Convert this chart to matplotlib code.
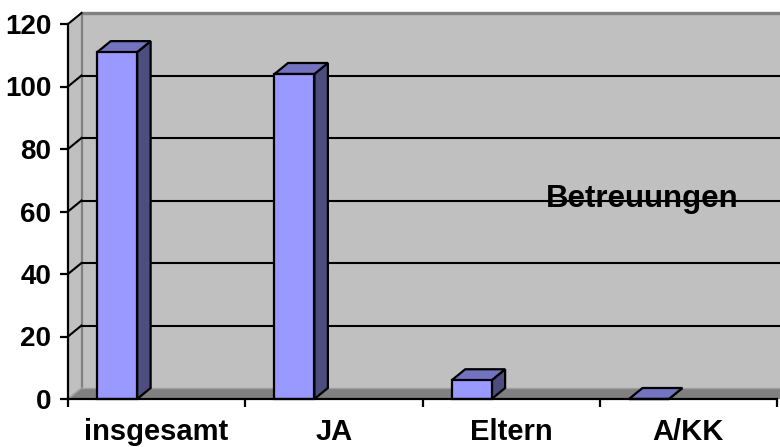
import matplotlib
matplotlib.use("Agg")
import matplotlib.pyplot as plt
from matplotlib.patches import Polygon

categories = ["insgesamt", "JA", "Eltern", "A/KK"]
values = [111, 104, 6, 0]
yticks = [0, 20, 40, 60, 80, 100, 120]
series_name = "Betreuungen"

plt.rcParams['font.family'] = ['Liberation Sans', 'DejaVu Sans']
plt.rcParams['font.weight'] = 'bold'

W, H = 780, 447
fig = plt.figure(figsize=(W / 100, H / 100), dpi=100)
fig.patch.set_facecolor('white')

x_left, x_right = 68, 777
y_bot, y_top = 399, 24
ax = fig.add_axes([x_left / W, (H - y_bot) / H, (x_right - x_left) / W, (y_bot - y_top) / H])
n = len(categories)
ymax = yticks[-1]
ax.set_xlim(0, n)
ax.set_ylim(0, ymax)
ax.patch.set_visible(False)

# depth offsets in data units
px_per_x = (x_right - x_left) / n
px_per_y = (y_bot - y_top) / ymax
ddx = 13.5 / px_per_x
ddy = 11.0 / px_per_y

wall_c = '#C0C0C0'
floor_c = '#808080'
edge_gray = '#808080'

# back wall
ax.add_patch(Polygon([(ddx, ddy), (n + ddx, ddy), (n + ddx, ymax + ddy), (ddx, ymax + ddy)],
                     closed=True, facecolor=wall_c, edgecolor='none', clip_on=False, zorder=0.5))
# left wall
ax.add_patch(Polygon([(0, 0), (ddx, ddy), (ddx, ymax + ddy), (0, ymax)],
                     closed=True, facecolor=wall_c, edgecolor='none', clip_on=False, zorder=0.5))
# back wall edges
ax.plot([ddx, ddx], [ddy, ymax + ddy], color=edge_gray, lw=1.6, clip_on=False, zorder=0.55)
ax.plot([ddx, n + ddx], [ymax + ddy, ymax + ddy], color=edge_gray, lw=2.4, clip_on=False, zorder=0.55)

# gridlines
for v in yticks[1:]:
    ax.plot([0, ddx], [v, v + ddy], color='black', lw=1.5, clip_on=False, zorder=0.6)
    if v < ymax:
        ax.plot([ddx, n + ddx], [v + ddy, v + ddy], color='black', lw=1.5, clip_on=False, zorder=0.6)

# floor
ax.add_patch(Polygon([(0, 0), (n + ddx * 3, 0), (n + ddx * 3, ddy), (ddx, ddy)],
                     closed=True, facecolor=floor_c, edgecolor='none', clip_on=False, zorder=0.7))
ax.plot([0, ddx], [0, ddy], color='#A0A0A0', lw=1.2, clip_on=False, zorder=0.72)
ax.plot([ddx, n + ddx * 3], [ddy, ddy], color='#A0A0A0', lw=1.0, clip_on=False, zorder=0.72)

# bars
front_c = '#9999FF'
top_c = '#7373C0'
side_c = '#4D4D80'
off = 0.165
bw = 0.225
for i, v in enumerate(values):
    x0 = i + off
    x1 = x0 + bw
    kw = dict(closed=True, edgecolor='black', lw=1.6, joinstyle='miter', clip_on=False, zorder=2 + i * 0.01)
    ax.add_patch(Polygon([(x1, 0), (x1 + ddx, ddy), (x1 + ddx, v + ddy), (x1, v)], facecolor=side_c, **kw))
    ax.add_patch(Polygon([(x0, v), (x1, v), (x1 + ddx, v + ddy), (x0 + ddx, v + ddy)], facecolor=top_c, **kw))
    ax.add_patch(Polygon([(x0, 0), (x1, 0), (x1, v), (x0, v)], facecolor=front_c, **kw))

# axes
for s in ['top', 'right']:
    ax.spines[s].set_visible(False)
for s in ['left', 'bottom']:
    ax.spines[s].set_linewidth(1.6)
    ax.spines[s].set_zorder(3)
ax.set_yticks(yticks)
ax.set_yticklabels([str(t) for t in yticks], fontsize=20, fontweight='bold')
ax.set_xticks(range(n + 1))
ax.set_xticklabels([''] * (n + 1))
ax.set_xticks([i + 0.5 for i in range(n)], minor=True)
ax.set_xticklabels(categories, minor=True, fontsize=21, fontweight='bold')
ax.tick_params(axis='x', which='minor', length=0, pad=14)
ax.tick_params(axis='x', which='major', length=6, width=1.6, direction='out')
ax.tick_params(axis='y', length=6, width=1.6, direction='out', pad=6)

ax.text(3.238, 64.0, series_name, fontsize=22.5, fontweight='bold', ha='center', va='center', zorder=4)

fig.savefig('out.png', dpi=100)
